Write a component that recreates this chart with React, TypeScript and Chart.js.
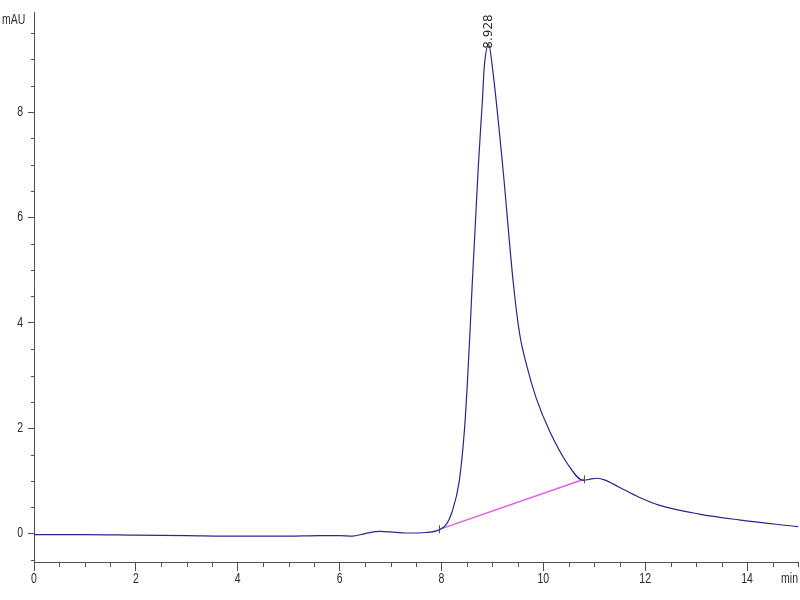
import React, { useEffect, useRef } from "react";
import { Chart, registerables } from "chart.js";

Chart.register(...registerables);

// Chromatogram trace (time in min, signal in mAU)
const traceTime = [0, 1, 2, 3, 4, 5, 5.6, 6.0, 6.25, 6.5, 6.8, 7.0, 7.3, 7.7, 7.95, 8.1, 8.2, 8.35, 8.45, 8.51, 8.56, 8.6, 8.725, 8.8, 8.84, 8.928, 9.0, 9.2, 9.41, 9.53, 9.67, 9.86, 10.12, 10.47, 10.78, 10.9, 11.06, 11.2, 11.49, 11.88, 12.27, 13.06, 13.84, 15];
const traceValue = [-0.02, -0.02, -0.03, -0.04, -0.05, -0.05, -0.04, -0.04, -0.05, 0.0, 0.04, 0.03, 0.01, 0.02, 0.07, 0.18, 0.39, 1.0, 1.95, 2.88, 3.82, 4.66, 7.0, 8.16, 8.85, 9.28, 8.85, 7.0, 4.76, 3.82, 3.2, 2.57, 1.95, 1.33, 1.01, 1.03, 1.05, 1.02, 0.88, 0.69, 0.54, 0.37, 0.26, 0.13];

// Integration baseline
const baseTime = [7.96, 10.8];
const baseValue = [0.08, 1.03];

// Peak annotation
const peakTime = [8.928];
const peakValue = [9.28];
const peakLabel = ["8.928"];

// Axis ticks
const xMajorTicks = [0, 2, 4, 6, 8, 10, 12, 14];
const yMajorTicks = [0, 2, 4, 6, 8];
const xMin = 0, xMax = 15, xMinorStep = 0.5;
const yMin = -0.54, yMax = 9.9, yMinorStep = 0.5;
const xUnit = "min";
const yUnit = "mAU";

const AXIS = "#505050";
const TEXT = "#2a2a2a";
const TRACE = "#28288c";
const BASE = "#e060e0";
const FONT = "'Liberation Sans', Arial, sans-serif";
const SQUEEZE = 0.75;

function narrowText(ctx: any, text: string, x: number, y: number, align: "left" | "center" | "right") {
  ctx.save();
  ctx.translate(x, y);
  ctx.scale(SQUEEZE, 1);
  ctx.textAlign = align;
  ctx.textBaseline = "middle";
  ctx.fillText(text, 0, 0);
  ctx.restore();
}

const decor = {
  id: "decor",
  afterDraw(chart: any) {
    const ctx = chart.ctx;
    const xs = chart.scales.x;
    const ys = chart.scales.y;
    ctx.save();
    ctx.strokeStyle = AXIS;
    ctx.lineWidth = 1;
    ctx.beginPath();
    for (let v = xMin; v <= xMax + 1e-9; v += xMinorStep) {
      if (xMajorTicks.some((m) => Math.abs(m - v) < 1e-6)) continue;
      const px = Math.round(xs.getPixelForValue(v)) + 0.5;
      ctx.moveTo(px, xs.top);
      ctx.lineTo(px, xs.top + 5);
    }
    for (let v = Math.ceil(yMin / yMinorStep) * yMinorStep; v <= yMax + 1e-9; v += yMinorStep) {
      if (yMajorTicks.some((m) => Math.abs(m - v) < 1e-6)) continue;
      const py = Math.round(ys.getPixelForValue(v)) + 0.5;
      ctx.moveTo(ys.right - 3, py);
      ctx.lineTo(ys.right, py);
    }
    // baseline end markers
    for (let i = 0; i < baseTime.length; i++) {
      const px = Math.round(xs.getPixelForValue(baseTime[i])) + 0.5;
      const py = ys.getPixelForValue(baseValue[i]);
      ctx.moveTo(px, py - 4);
      ctx.lineTo(px, py + 4);
    }
    ctx.stroke();

    // tick labels (narrow)
    ctx.fillStyle = TEXT;
    ctx.font = `14px ${FONT}`;
    for (const v of xMajorTicks) {
      narrowText(ctx, String(v), xs.getPixelForValue(v), 579, "center");
    }
    for (const v of yMajorTicks) {
      narrowText(ctx, String(v), ys.right - 11, ys.getPixelForValue(v), "right");
    }

    // unit labels
    narrowText(ctx, yUnit, 2, 20, "left");
    narrowText(ctx, xUnit, 798, 579, "right");

    // peak annotation
    ctx.font = `12px 'DejaVu Sans', sans-serif`;
    for (let i = 0; i < peakTime.length; i++) {
      const px = xs.getPixelForValue(peakTime[i]);
      const py = ys.getPixelForValue(peakValue[i]);
      ctx.save();
      ctx.translate(px, py + 4);
      ctx.rotate(-Math.PI / 2);
      ctx.textAlign = "left";
      ctx.textBaseline = "middle";
      ctx.fillText(peakLabel[i], 0, 0);
      ctx.restore();
    }
    ctx.restore();
  },
};

export default function App() {
  const ref = useRef<HTMLCanvasElement | null>(null);
  useEffect(() => {
    if (!ref.current) return;
    const chart = new Chart(ref.current, {
      type: "line",
      data: {
        datasets: [
          {
            data: traceTime.map((t, i) => ({ x: t, y: traceValue[i] })),
            borderColor: TRACE,
            borderWidth: 1.2,
            pointRadius: 0,
            cubicInterpolationMode: "monotone",
            fill: false,
          },
          {
            data: baseTime.map((t, i) => ({ x: t, y: baseValue[i] })),
            borderColor: BASE,
            borderWidth: 1.5,
            pointRadius: 0,
            fill: false,
          },
        ],
      },
      options: {
        animation: false,
        responsive: false,
        devicePixelRatio: 1,
        layout: { padding: { left: 0, top: 12, right: 2, bottom: 0 } },
        plugins: { legend: { display: false }, tooltip: { enabled: false } },
        scales: {
          x: {
            type: "linear",
            min: xMin,
            max: xMax,
            afterBuildTicks: (s: any) => {
              s.ticks = xMajorTicks.map((v) => ({ value: v }));
            },
            afterFit: (s: any) => {
              s.height = 38;
            },
            border: { display: true, color: AXIS, width: 1 },
            grid: { display: true, drawOnChartArea: false, drawTicks: true, tickLength: 9, color: AXIS, tickColor: AXIS },
            ticks: { display: false, autoSkip: false },
          },
          y: {
            type: "linear",
            min: yMin,
            max: yMax,
            afterBuildTicks: (s: any) => {
              s.ticks = yMajorTicks.map((v) => ({ value: v }));
            },
            afterFit: (s: any) => {
              s.width = 34;
            },
            border: { display: true, color: AXIS, width: 1 },
            grid: { display: true, drawOnChartArea: false, drawTicks: true, tickLength: 6, color: AXIS, tickColor: AXIS },
            ticks: { display: false, autoSkip: false },
          },
        },
      },
      plugins: [decor],
    } as any);
    return () => chart.destroy();
  }, []);
  return (
    <div style={{ position: "absolute", left: 0, top: 0, width: 800, height: 600, background: "#fff" }}>
      <canvas ref={ref} width={800} height={600} />
    </div>
  );
}
